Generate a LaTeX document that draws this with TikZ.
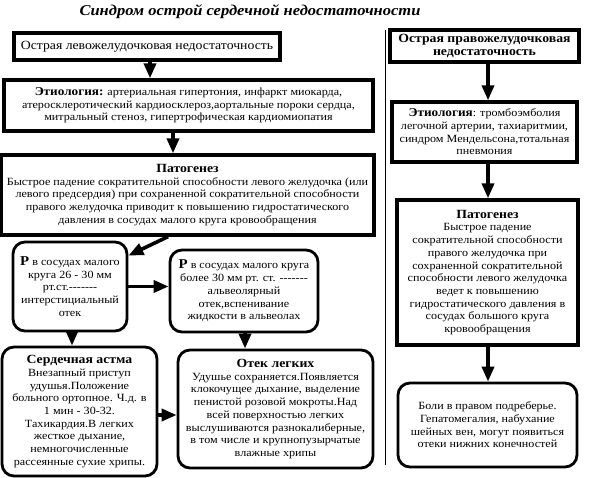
\documentclass[tikz,border=0pt]{standalone}
\usepackage{fontspec}
\setmainfont{Liberation Serif}[FakeStretch=1.1]
\usetikzlibrary{arrows.meta}
\newcommand{\bodyfont}{\fontsize{11}{12.7}\selectfont}
\newcommand{\hdfont}{\fontsize{12.5}{13}\selectfont\bfseries}
\newcommand{\bigP}{{\fontsize{13.5}{12.7}\selectfont\bfseries Р}}
\newcommand{\etfont}{\fontsize{12}{12.7}\selectfont\bfseries}
\newcommand{\dashes}{-{}-{}-{}-{}-{}-{}-}
\begin{document}
\begin{tikzpicture}[x=1pt,y=-1pt,
  sqbox/.style={draw, line width=3.3pt, inner sep=0pt, align=center, font=\bodyfont},
  rbox/.style={draw, line width=2.8pt, rounded corners=12pt, inner sep=0pt, align=center, font=\bodyfont},
  arr/.style={line width=3.6pt, -{Triangle[width=12pt,length=15pt]}},
  sepline/.style={line width=0.9pt}]
\useasboundingbox (0,0) rectangle (592,478);
% title
\node (title) at (250,12) {\fontsize{15}{16}\selectfont\bfseries\itshape Синдром острой сердечной недостаточности};
% left column
\node[sqbox, minimum width=266pt, minimum height=27pt, font=\fontsize{12.5}{13}\selectfont] (box1) at (147,46.5) {Острая левожелудочковая недостаточность};
\node[sqbox, minimum width=369pt, minimum height=51pt] (etl) at (188.5,105.5)
 {{\etfont Этиология:} артериальная гипертония, инфаркт миокарда,\\
  атеросклеротический кардиосклероз,аортальные пороки сердца,\\
  митральный стеноз, гипертрофическая кардиомиопатия};
\node[sqbox, minimum width=373pt, minimum height=80pt] (pal) at (187.5,195)
 {{\hdfont Патогенез}\\
  Быстрое падение сократительной способности левого желудочка (или\\
  левого предсердия) при сохраненной сократительной способности\\
  правого желудочка приводит к повышению гидростатического\\
  давления в сосудах малого круга кровообращения};
\node[rbox, minimum width=114pt, minimum height=89pt] (p1) at (70,286.5)
 {\bigP{} в сосудах малого\\ круга 26 - 30 мм\\ рт.ст.\dashes\\ интерстициальный\\ отек};
\node[rbox, minimum width=148pt, minimum height=82pt] (p2) at (244,291)
 {\bigP{} в сосудах малого круга\\ более 30 мм рт. ст. \dashes\\ альвеолярный\\ отек,вспенивание\\ жидкости в альвеолах};
\node[rbox, minimum width=155pt, minimum height=129pt] (astma) at (79.5,411.5)
 {{\hdfont Сердечная астма}\\ Внезапный приступ\\ удушья.Положение\\ больного ортопное. Ч.д. в\\ 1 мин - 30-32.\\ Тахикардия.В легких\\ жесткое дыхание,\\ немногочисленные\\ рассеянные сухие хрипы.};
\node[rbox, minimum width=195pt, minimum height=118pt] (otek) at (275.5,409)
 {{\hdfont Отек легких}\\ Удушье сохраняется.Появляется\\ клокочущее дыхание, выделение\\ пенистой розовой мокроты.Над\\ всей поверхностью легких\\ выслушиваются разнокалиберные,\\ в том числе и крупнопузырчатые\\ влажные хрипы};
% right column
\node[sqbox, minimum width=189pt, minimum height=32pt, font=\fontsize{12.5}{13}\selectfont\bfseries] (r1) at (484.5,46)
 {Острая правожелудочковая\\ недостаточность};
\node[sqbox, minimum width=185pt, minimum height=60pt] (ret) at (484.5,132)
 {{\etfont Этиология}: тромбоэмболия\\ легочной артерии, тахиаритмии,\\ синдром Мендельсона,тотальная\\ пневмония};
\node[sqbox, minimum width=181pt, minimum height=145pt] (rpa) at (487.5,272.5)
 {{\hdfont Патогенез}\\ Быстрое падение\\ сократительной способности\\ правого желудочка при\\ сохраненной сократительной\\ способности левого желудочка\\ ведет к повышению\\ гидростатического давления в\\ сосудах большого круга\\ кровообращения};
\node[rbox, minimum width=179pt, minimum height=84pt] (boli) at (487.5,425)
 {Боли в правом подреберье.\\ Гепатомегалия, набухание\\ шейных вен, могут появиться\\ отеки нижних конечностей};
% separator
\coordinate (sepT) at (385,30);
\coordinate (sepB) at (385,465);
\draw[sepline] (sepT) -- (sepB);
% helper coordinates
\coordinate (xa) at (150,0);
\coordinate (xb) at (173,0);
\coordinate (xc) at (168,0);
\coordinate (xd) at (72,0);
\coordinate (xe) at (245,0);
\coordinate (xr) at (488,0);
\coordinate (ya) at (0,415);
% arrows
\draw[arr] (box1.south -| xa) -- (etl.north -| xa);
\draw[arr] (etl.south -| xb) -- (pal.north -| xb);
\draw[arr] (pal.south -| xc) -- ([yshift=-15pt]p1.north east);
\draw[arr] (p1.east) -- (p1.east -| p2.west);
\draw[arr] (p1.south -| xd) -- (astma.north -| xd);
\draw[arr] (p2.south -| xe) -- (otek.north -| xe);
\draw[arr] (astma.east |- ya) -- (otek.west |- ya);
\draw[arr] (r1.south -| xr) -- (ret.north -| xr);
\draw[arr] (ret.south -| xr) -- (rpa.north -| xr);
\draw[arr] (rpa.south -| xr) -- (boli.north -| xr);
\end{tikzpicture}
\end{document}
